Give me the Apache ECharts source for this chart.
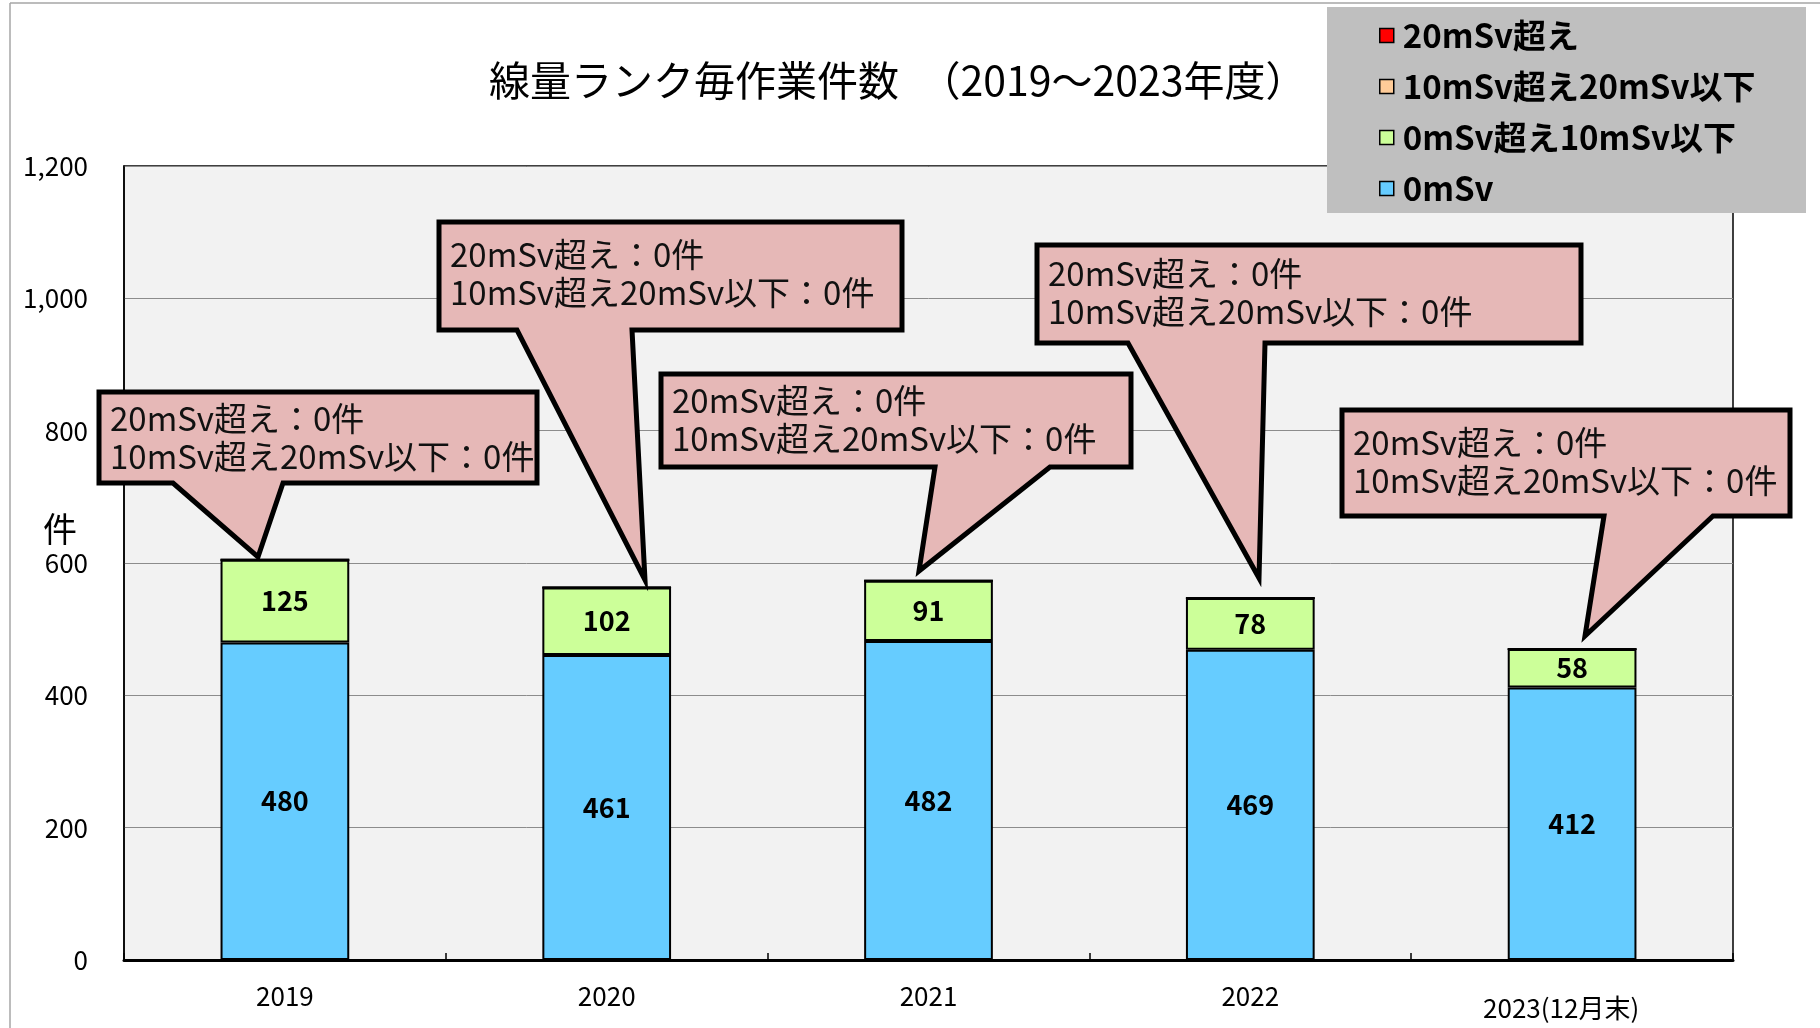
<!DOCTYPE html>
<html>
<head>
<meta charset="utf-8">
<script src="https://cdn.jsdelivr.net/npm/echarts@6/dist/echarts.min.js"></script>
<style>
html,body{margin:0;padding:0;background:#fff;}
#main{width:1820px;height:1028px;}
</style>
</head>
<body>
<div id="main"></div>
<script>
// ---- data ----
const categories = ['2019', '2020', '2021', '2022', '2023(12月末)'];
const seriesNames = ['20mSv超え', '10mSv超え20mSv以下', '0mSv超え10mSv以下', '0mSv'];
const over20 = [0, 0, 0, 0, 0];
const from10to20 = [0, 0, 0, 0, 0];
const from0to10 = [125, 102, 91, 78, 58];
const zero = [480, 461, 482, 469, 412];
const yTicks = [0, 200, 400, 600, 800, 1000, 1200];
const titleText = '線量ランク毎作業件数　（2019～2023年度）';
const unitLabel = '件';

// ---- layout (pixels) ----
const FONT = '"Noto Sans CJK JP", "Noto Sans", sans-serif';
const callouts = [
  {box: [99, 392, 537, 483], tail: [173, 283, 258, 557], ty: 422},
  {box: [439, 222, 902, 330], tail: [517, 632, 645, 580], ty: 258},
  {box: [661, 374, 1131, 467], tail: [935, 1050, 919, 571], ty: 404},
  {box: [1037, 245, 1581, 343], tail: [1128, 1265, 1259, 578], ty: 277},
  {box: [1342, 410, 1790, 516], tail: [1604, 1713, 1585, 636], ty: 446}
];

const chart = echarts.init(document.getElementById('main'), null, {renderer: 'canvas'});

const graphics = [];
// outer faint border
graphics.push({type: 'line', z: 1, shape: {x1: 10, y1: 3, x2: 10, y2: 1028}, style: {stroke: '#a6a6a6', lineWidth: 1.5}});
graphics.push({type: 'line', z: 1, shape: {x1: 10, y1: 3, x2: 1820, y2: 3}, style: {stroke: '#a6a6a6', lineWidth: 1.5}});
// unit label
graphics.push({type: 'text', z: 10, x: 60, y: 529, style: {text: unitLabel, font: '34px ' + FONT, fill: '#000', align: 'center', verticalAlign: 'middle'}});
// callouts
callouts.forEach((c, i) => {
  const [x1, y1, x2, y2] = c.box;
  const [bl, br, tx, ty] = c.tail;
  graphics.push({
    type: 'polygon', z: 50,
    shape: {points: [[x1, y1], [x2, y1], [x2, y2], [br, y2], [tx, ty], [bl, y2], [x1, y2]]},
    style: {fill: '#e6b8b7', stroke: '#000', lineWidth: 5, lineJoin: 'miter'}
  });
  const txt = seriesNames[0] + '：' + over20[i] + '件\n' + seriesNames[1] + '：' + from10to20[i] + '件';
  graphics.push({
    type: 'text', z: 51, x: x1 + 11, y: c.ty - 23,
    style: {text: txt, font: '33px ' + FONT, fill: '#111', lineHeight: 38, align: 'left', verticalAlign: 'top'}
  });
});
// legend background
graphics.push({type: 'rect', z: 100, shape: {x: 1327, y: 7, width: 479, height: 206}, style: {fill: '#bfbfbf'}});

const barLabel = {
  show: true, position: 'inside', color: '#000', fontSize: 27, fontWeight: 'bold', fontFamily: FONT,
  formatter: p => (p.value ? String(p.value) : '')
};
const common = {type: 'bar', stack: 'total', barWidth: '40%', itemStyle: {borderColor: '#000', borderWidth: 2}};

chart.setOption({
  animation: false,
  backgroundColor: '#fff',
  title: {
    text: titleText, left: 484, top: 53,
    textStyle: {fontFamily: FONT, fontSize: 41, fontWeight: 'normal', color: '#000', lineHeight: 44}
  },
  legend: {
    z: 110,
    orient: 'vertical', left: 1374, top: 13,
    data: seriesNames.slice(),
    icon: 'rect', itemWidth: 14, itemHeight: 14, itemGap: 16,
    itemStyle: {borderColor: '#000', borderWidth: 1.5},
    textStyle: {fontFamily: FONT, fontSize: 33, fontWeight: 'bold', color: '#000', lineHeight: 35, padding: [0, 0, 0, 4]},
    selectedMode: false
  },
  grid: {
    left: 124, right: 87, top: 166, bottom: 68,
    show: true, backgroundColor: '#f2f2f2', borderColor: '#000', borderWidth: 1.5
  },
  xAxis: {
    type: 'category', data: categories,
    axisLine: {lineStyle: {color: '#000', width: 3}},
    axisTick: {show: true, inside: true, length: 7, lineStyle: {color: '#000', width: 1.5}},
    axisLabel: {
      color: '#000', fontSize: 26, fontFamily: FONT, margin: 23, lineHeight: 26,
      formatter: (v, idx) => idx === categories.length - 1 ? '{last|' + v + '}' : v,
      rich: {last: {fontSize: 26, fontFamily: FONT, color: '#000', lineHeight: 36, padding: [15, 22, 0, 0]}}
    }
  },
  yAxis: {
    type: 'value', min: yTicks[0], max: yTicks[yTicks.length - 1], interval: yTicks[1] - yTicks[0],
    axisLine: {show: true, lineStyle: {color: '#000', width: 1.5}},
    axisTick: {show: false},
    splitLine: {lineStyle: {color: '#8c8c8c', width: 1}},
    axisLabel: {
      color: '#000', fontSize: 26, fontFamily: FONT, margin: 36,
      formatter: v => v.toLocaleString('en-US')
    }
  },
  series: [
    Object.assign({}, common, {name: seriesNames[3], data: zero, itemStyle: {color: '#66ccff', borderColor: '#000', borderWidth: 2}, label: barLabel}),
    Object.assign({}, common, {name: seriesNames[2], data: from0to10, itemStyle: {color: '#ccff99', borderColor: '#000', borderWidth: 2}, label: barLabel}),
    Object.assign({}, common, {name: seriesNames[1], data: from10to20, itemStyle: {color: '#ffcc99', borderColor: '#000', borderWidth: 2}, label: barLabel}),
    Object.assign({}, common, {name: seriesNames[0], data: over20, itemStyle: {color: '#ff0000', borderColor: '#000', borderWidth: 2}, label: barLabel})
  ],
  graphic: {elements: graphics}
});
</script>
</body>
</html>
